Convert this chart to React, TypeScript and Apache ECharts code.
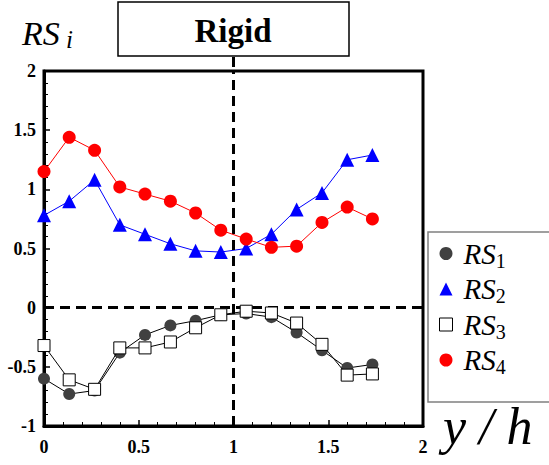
import React, { useEffect, useRef } from "react";
import * as echarts from "echarts";

const xValues = [0, 0.133, 0.267, 0.4, 0.533, 0.667, 0.8, 0.933, 1.067, 1.2, 1.333, 1.467, 1.6, 1.733];
const rs1 = [-0.6, -0.73, -0.7, -0.38, -0.23, -0.15, -0.11, -0.06, -0.05, -0.08, -0.21, -0.36, -0.51, -0.48];
const rs2 = [0.78, 0.9, 1.08, 0.7, 0.62, 0.54, 0.48, 0.47, 0.5, 0.62, 0.83, 0.97, 1.25, 1.29];
const rs3 = [-0.32, -0.61, -0.69, -0.34, -0.34, -0.29, -0.17, -0.06, -0.03, -0.045, -0.13, -0.31, -0.57, -0.56];
const rs4 = [1.15, 1.44, 1.33, 1.02, 0.96, 0.9, 0.8, 0.655, 0.58, 0.51, 0.52, 0.72, 0.85, 0.75];
const refX = 1;
const refY = 0;

const SERIF = "Liberation Serif";

function pairs(ys: number[]) {
  return ys.map((y, i) => [xValues[i], y]);
}

export default function App() {
  const ref = useRef<HTMLDivElement>(null);
  useEffect(() => {
    if (!ref.current) return;
    const chart = echarts.init(ref.current, null, { renderer: "svg" });
    const dashStyle = { color: "#000", width: 3, type: [10, 6] as any };
    const option: any = {
      animation: false,
      backgroundColor: "#fff",
      textStyle: { fontFamily: SERIF },
      grid: {
        left: 44,
        top: 71,
        right: 126,
        bottom: 39,
        show: true,
        borderColor: "#000",
        borderWidth: 3,
        backgroundColor: "transparent",
      },
      xAxis: {
        type: "value",
        min: 0,
        max: 2,
        interval: 0.5,
        name: "y / h",
        nameLocation: "end",
        nameGap: 20,
        nameTextStyle: {
          fontFamily: SERIF,
          fontStyle: "italic",
          fontSize: 52,
          color: "#000",
          verticalAlign: "middle",
          padding: [14, 0, 0, 0],
        },
        axisLine: { onZero: false, lineStyle: { color: "#000", width: 3 } },
        axisTick: { inside: true, length: 6, lineStyle: { color: "#000", width: 1.5 } },
        minorTick: { show: true, splitNumber: 5, length: 4, lineStyle: { color: "#000", width: 1 } },
        splitLine: { show: false },
        axisLabel: {
          fontFamily: SERIF,
          fontWeight: "bold",
          fontSize: 18,
          color: "#000",
          margin: 12,
        },
      },
      yAxis: {
        type: "value",
        min: -1,
        max: 2,
        interval: 0.5,
        axisLine: { onZero: false, lineStyle: { color: "#000", width: 3 } },
        axisTick: { inside: true, length: 6, lineStyle: { color: "#000", width: 1.5 } },
        minorTick: { show: true, splitNumber: 5, length: 4, lineStyle: { color: "#000", width: 1 } },
        splitLine: { show: false },
        axisLabel: {
          fontFamily: SERIF,
          fontWeight: "bold",
          fontSize: 18,
          color: "#000",
          margin: 8,
        },
      },
      legend: {
        orient: "vertical",
        left: 434,
        top: 234,
        itemGap: 4,
        itemWidth: 13,
        itemHeight: 13,
        data: [
          { name: "RS1", icon: "circle", itemStyle: { color: "#404040" } },
          { name: "RS2", icon: "triangle", itemStyle: { color: "#0000ff" } },
          { name: "RS3", icon: "rect", itemStyle: { color: "#fff", borderColor: "#000", borderWidth: 1 } },
          { name: "RS4", icon: "circle", itemStyle: { color: "#ff0000" } },
        ],
        formatter: (n: string) => "{a|RS}{b|" + n.slice(2) + "}",
        textStyle: {
          color: "#000",
          fontFamily: SERIF,
          rich: {
            a: { fontFamily: SERIF, fontStyle: "italic", fontSize: 29, color: "#000", lineHeight: 34 },
            b: { fontFamily: SERIF, fontSize: 20, color: "#000", verticalAlign: "bottom", lineHeight: 20 },
          },
          padding: [0, 0, 0, 6],
        },
        selectedMode: false,
      },
      series: [
        {
          name: "RS1",
          type: "line",
          data: pairs(rs1),
          symbol: "circle",
          symbolSize: 12,
          itemStyle: { color: "#404040" },
          lineStyle: { color: "#000", width: 1 },
          markLine: {
            silent: true,
            symbol: "none",
            label: { show: false },
            lineStyle: dashStyle,
            data: [{ xAxis: refX }, { yAxis: refY }],
          },
          z: 3,
        },
        {
          name: "RS2",
          type: "line",
          data: pairs(rs2),
          symbol: "triangle",
          symbolSize: 14,
          itemStyle: { color: "#0000ff" },
          lineStyle: { color: "#0000ff", width: 1 },
          z: 4,
        },
        {
          name: "RS3",
          type: "line",
          data: pairs(rs3),
          symbol: "rect",
          symbolSize: 12,
          itemStyle: { color: "#fff", borderColor: "#000", borderWidth: 1 },
          lineStyle: { color: "#000", width: 1 },
          z: 5,
        },
        {
          name: "RS4",
          type: "line",
          data: pairs(rs4),
          symbol: "circle",
          symbolSize: 13,
          itemStyle: { color: "#ff0000" },
          lineStyle: { color: "#ff0000", width: 1 },
          z: 6,
        },
      ],
    };
    chart.setOption(option);
    const top = chart.convertToPixel({ gridIndex: 0 }, [refX, 2]) as number[];
    chart.setOption({
      graphic: [
        {
          type: "rect",
          shape: { x: 118, y: 2, width: 231, height: 54 },
          style: { fill: "#fff", stroke: "#000", lineWidth: 1.5 },
          z: 10,
        },
        {
          type: "text",
          x: 233,
          y: 31,
          style: {
            text: "Rigid",
            fontFamily: SERIF,
            fontWeight: "bold",
            fontSize: 33,
            fill: "#000",
            align: "center",
            verticalAlign: "middle",
          },
          z: 11,
        },
        {
          type: "line",
          shape: { x1: top[0], y1: 57, x2: top[0], y2: top[1] },
          style: { stroke: "#000", lineWidth: 3, lineDash: [10, 6] },
          z: 11,
        },
        {
          type: "text",
          x: 22,
          y: 52,
          style: {
            text: "{a|RS}{b| i}",
            fontFamily: SERIF,
            rich: {
              a: { fontFamily: SERIF, fontStyle: "italic", fontSize: 34, fill: "#000", lineHeight: 38 },
              b: { fontFamily: SERIF, fontStyle: "italic", fontSize: 25, fill: "#000", verticalAlign: "bottom", lineHeight: 25 },
            },
            verticalAlign: "bottom",
          },
        },
        {
          type: "rect",
          shape: { x: 428, y: 232, width: 140, height: 170 },
          style: { fill: "none", stroke: "#808080", lineWidth: 1.5 },
          z: 1,
        },
      ],
    });
    return () => chart.dispose();
  }, []);
  return (
    <div
      ref={ref}
      style={{ position: "absolute", left: 0, top: 0, width: 549, height: 465 }}
    />
  );
}
